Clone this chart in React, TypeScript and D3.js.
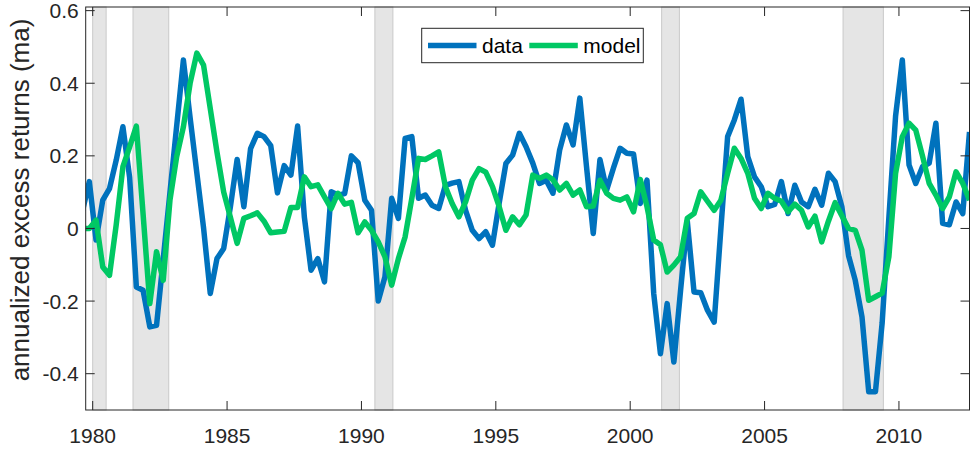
import { useRef, useEffect } from "react";
import * as d3 from "d3";

// quarterly series, first quarter plotted at 1979.625
const startYear = 1979.625;
const quarterStep = 0.25;

const dataValues = [
  0.05, 0.129, -0.032, 0.078, 0.11, 0.188, 0.28, 0.14, -0.161, -0.17,
  -0.271, -0.267, -0.084, 0.099, 0.282, 0.464, 0.305, 0.153, 0.002, -0.179,
  -0.083, -0.055, 0.06, 0.19, 0.06, 0.22, 0.262, 0.253, 0.228, 0.098,
  0.173, 0.147, 0.282, 0.032, -0.115, -0.083, -0.147, 0.101, 0.092, 0.096,
  0.2, 0.181, 0.078, 0.05, -0.2, -0.133, 0.083, 0.028, 0.248, 0.253,
  0.083, 0.092, 0.064, 0.055, 0.119, 0.125, 0.129, 0.05, -0.005, -0.028,
  -0.009, -0.046, 0.07, 0.179, 0.202, 0.262, 0.225, 0.18, 0.124, 0.133,
  0.097, 0.216, 0.285, 0.23, 0.359, 0.17, -0.014, 0.19, 0.106, 0.166,
  0.221, 0.207, 0.205, 0.069, 0.133, -0.179, -0.345, -0.207, -0.368, -0.17,
  0.02, -0.175, -0.177, -0.225, -0.258, 0.0, 0.253, 0.299, 0.356, 0.198,
  0.142, 0.115, 0.06, 0.066, 0.129, 0.041, 0.119, 0.073, 0.06, 0.108,
  0.064, 0.152, 0.129, 0.06, -0.075, -0.143, -0.244, -0.45, -0.45, -0.26,
  0.03, 0.31, 0.464, 0.175, 0.124, 0.17, 0.18, 0.29, 0.014, 0.01,
  0.073, 0.041, 0.266,
];

const modelValues = [
  0.0, 0.0, 0.023, -0.106, -0.129, 0.01, 0.17, 0.225, 0.282, 0.04,
  -0.207, -0.064, -0.143, 0.078, 0.198, 0.28, 0.4, 0.483, 0.45, 0.33,
  0.21, 0.1, 0.03, -0.041, 0.028, 0.035, 0.043, 0.02, -0.012, -0.01,
  -0.008, 0.058, 0.058, 0.142, 0.115, 0.12, 0.087, 0.055, 0.097, 0.067,
  0.072, -0.012, 0.018, -0.005, -0.037, -0.078, -0.156, -0.083, -0.023, 0.083,
  0.193, 0.19, 0.2, 0.211, 0.115, 0.069, 0.032, 0.073, 0.133, 0.165,
  0.155, 0.115, 0.06, -0.005, 0.032, 0.01, 0.037, 0.147, 0.138, 0.147,
  0.134, 0.106, 0.124, 0.092, 0.106, 0.06, 0.062, 0.133, 0.097, 0.083,
  0.078, 0.087, 0.046, 0.135, 0.06, -0.032, -0.045, -0.12, -0.101, -0.078,
  0.028, 0.041, 0.101, 0.075, 0.05, 0.078, 0.152, 0.221, 0.193, 0.152,
  0.083, 0.055, 0.097, 0.083, 0.075, 0.046, 0.067, 0.05, 0.004, 0.034,
  -0.037, 0.02, 0.071, 0.035, 0.0, -0.005, -0.06, -0.198, -0.188, -0.178,
  -0.078, 0.152, 0.253, 0.29, 0.271, 0.2, 0.124, 0.092, 0.055, 0.087,
  0.156, 0.124, 0.078,
];

// NBER recessions (start, end) in fractional years
const recessions: [number, number][] = [
  [1980.0, 1980.5],
  [1981.5, 1982.83],
  [1990.5, 1991.17],
  [2001.17, 2001.83],
  [2007.92, 2009.42],
];

const xTicks = [1980, 1985, 1990, 1995, 2000, 2005, 2010];
const yTicks = [-0.4, -0.2, 0, 0.2, 0.4, 0.6];
const yTickLabels = ["-0.4", "-0.2", "0", "0.2", "0.4", "0.6"];

const seriesNames = ["data", "model"];
const seriesColors = ["#0072BD", "#00C864"];

export default function App() {
  const svgRef = useRef<SVGSVGElement | null>(null);

  useEffect(() => {
    const width = 972;
    const height = 450;
    const svg = d3.select(svgRef.current);
    svg.selectAll("*").remove();
    svg.attr("width", width).attr("height", height);

    const left = 85.7;
    const right = 969.5;
    const top = 7;
    const bottom = 410;
    const axisColor = "#262626";
    const font = "'Liberation Sans', Arial, Helvetica, sans-serif";

    const x = d3.scaleLinear().domain([1979.74, 2012.625]).range([left, right]);
    const y = d3.scaleLinear().domain([-0.5, 0.61]).range([bottom, top]);

    svg.append("rect").attr("width", width).attr("height", height).attr("fill", "#fff");

    svg
      .append("defs")
      .append("clipPath")
      .attr("id", "plot-clip")
      .append("rect")
      .attr("x", left)
      .attr("y", top)
      .attr("width", right - left)
      .attr("height", bottom - top);

    // recession shading
    svg
      .append("g")
      .selectAll("rect")
      .data(recessions)
      .join("rect")
      .attr("x", (d) => x(d[0]))
      .attr("y", top)
      .attr("width", (d) => x(d[1]) - x(d[0]))
      .attr("height", bottom - top)
      .attr("fill", "#e5e5e5")
      .attr("stroke", "#c9c9c9")
      .attr("stroke-width", 1);

    const line = d3
      .line<number>()
      .x((_, i) => x(startYear + i * quarterStep))
      .y((d) => y(d));

    const lines = svg.append("g").attr("clip-path", "url(#plot-clip)");
    [dataValues, modelValues].forEach((vals, si) => {
      lines
        .append("path")
        .datum(vals)
        .attr("fill", "none")
        .attr("stroke", seriesColors[si])
        .attr("stroke-width", 5.5)
        .attr("stroke-linejoin", "round")
        .attr("d", line);
    });

    // axes box
    svg
      .append("rect")
      .attr("x", left)
      .attr("y", top)
      .attr("width", right - left)
      .attr("height", bottom - top)
      .attr("fill", "none")
      .attr("stroke", axisColor)
      .attr("stroke-width", 1);

    const tickLen = 9;
    const ticks = svg.append("g").attr("stroke", axisColor).attr("stroke-width", 1);
    xTicks.forEach((t) => {
      ticks.append("line").attr("x1", x(t)).attr("x2", x(t)).attr("y1", bottom).attr("y2", bottom - tickLen);
      ticks.append("line").attr("x1", x(t)).attr("x2", x(t)).attr("y1", top).attr("y2", top + tickLen);
    });
    yTicks.forEach((t) => {
      ticks.append("line").attr("x1", left).attr("x2", left + tickLen).attr("y1", y(t)).attr("y2", y(t));
      ticks.append("line").attr("x1", right).attr("x2", right - tickLen).attr("y1", y(t)).attr("y2", y(t));
    });

    svg
      .append("g")
      .selectAll("text")
      .data(xTicks)
      .join("text")
      .attr("x", (d) => x(d))
      .attr("y", 442.5)
      .attr("text-anchor", "middle")
      .attr("fill", axisColor)
      .style("font-family", font)
      .style("font-size", "21px")
      .text((d) => String(d));

    svg
      .append("g")
      .selectAll("text")
      .data(yTicks)
      .join("text")
      .attr("x", left - 7)
      .attr("y", (d) => y(d))
      .attr("dy", "0.36em")
      .attr("text-anchor", "end")
      .attr("fill", axisColor)
      .style("font-family", font)
      .style("font-size", "21px")
      .text((_, i) => yTickLabels[i]);

    svg
      .append("text")
      .attr("transform", `translate(29,200) rotate(-90)`)
      .attr("text-anchor", "middle")
      .attr("fill", axisColor)
      .style("font-family", font)
      .style("font-size", "26px")
      .text("annualized excess returns (ma)");

    // legend
    const lg = svg.append("g");
    lg.append("rect")
      .attr("x", 421.7)
      .attr("y", 28.3)
      .attr("width", 221.6)
      .attr("height", 34.4)
      .attr("fill", "#fff")
      .attr("stroke", axisColor)
      .attr("stroke-width", 1);
    const legendX = [428, 529.3];
    seriesNames.forEach((name, i) => {
      lg.append("line")
        .attr("x1", legendX[i])
        .attr("x2", legendX[i] + 48.5)
        .attr("y1", 45.5)
        .attr("y2", 45.5)
        .attr("stroke", seriesColors[i])
        .attr("stroke-width", 5.5);
      lg.append("text")
        .attr("x", legendX[i] + 54)
        .attr("y", 45.5)
        .attr("dy", "0.36em")
        .attr("fill", "#000")
        .style("font-family", font)
        .style("font-size", "21px")
        .text(name);
    });
  }, []);

  return (
    <div style={{ position: "absolute", left: 0, top: 0, width: 972, height: 450 }}>
      <svg ref={svgRef} style={{ display: "block" }} />
    </div>
  );
}
